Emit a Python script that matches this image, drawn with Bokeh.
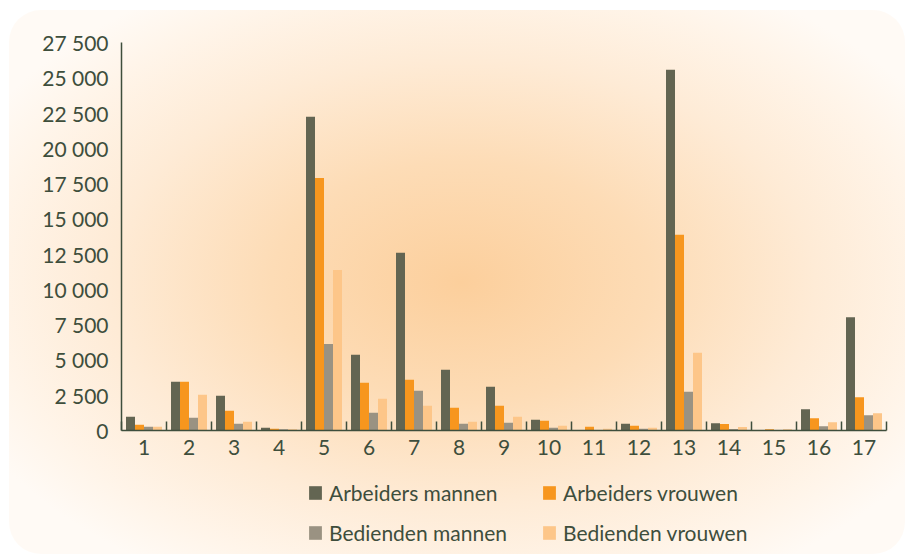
from bokeh.plotting import figure
from bokeh.layouts import column
from bokeh.models import ColumnDataSource, FixedTicker, Legend, LegendItem
from bokeh.transform import dodge
from bokeh.embed import file_html
from bokeh.resources import INLINE

categories = list(range(1, 18))
arbeiders_mannen = [970, 3450, 2460, 190, 22230, 5370, 12600, 4300, 3100, 760, 30, 475, 25570, 520, 30, 1510, 8030]
arbeiders_vrouwen = [400, 3450, 1400, 120, 17900, 3380, 3590, 1610, 1750, 690, 260, 330, 13875, 460, 80, 870, 2360]
bedienden_mannen = [260, 900, 475, 80, 6130, 1255, 2815, 475, 545, 190, 40, 120, 2745, 100, 40, 300, 1085]
bedienden_vrouwen = [260, 2530, 620, 80, 11380, 2250, 1750, 620, 970, 330, 120, 190, 5510, 250, 80, 590, 1225]

series_names = ["Arbeiders mannen", "Arbeiders vrouwen", "Bedienden mannen", "Bedienden vrouwen"]
series_colors = ["#636552", "#f7961e", "#9a9282", "#fdc689"]

y_ticks = [0, 2500, 5000, 7500, 10000, 12500, 15000, 17500, 20000, 22500, 25000, 27500]
y_tick_labels = ["0", "2 500", "5 000", "7 500", "10 000", "12 500", "15 000", "17 500",
                 "20 000", "22 500", "25 000", "27 500"]
x_tick_labels = [str(c) for c in categories]

TEXT = "#3e4e3c"
FONT = "Lato"

src = ColumnDataSource(dict(x=categories, am=arbeiders_mannen, av=arbeiders_vrouwen,
                            bm=bedienden_mannen, bv=bedienden_vrouwen))
cols = ["am", "av", "bm", "bv"]
offsets = [-0.3, -0.1, 0.1, 0.3]

p = figure(width=905, height=474, output_backend="svg", toolbar_location=None,
           x_range=(0.5, 17.5), y_range=(0, 27500),
           min_border_left=121, min_border_right=19, min_border_top=42, min_border_bottom=44)
p.background_fill_color = None
p.border_fill_color = None
p.outline_line_color = None
p.xgrid.visible = False
p.ygrid.visible = False

for c, off, col in zip(cols, offsets, series_colors):
    p.vbar(x=dodge("x", off), top=c, width=0.2, source=src,
           fill_color=col, line_color=None)

# y axis
ya = p.yaxis[0]
ya.ticker = FixedTicker(ticks=y_ticks)
ya.major_label_overrides = {t: l for t, l in zip(y_ticks, y_tick_labels)}
ya.major_tick_in = 0
ya.major_tick_out = 0
ya.minor_tick_in = 0
ya.minor_tick_out = 0
ya.axis_line_color = TEXT
ya.axis_line_width = 1.5
ya.major_label_standoff = 13
ya.major_label_text_font = FONT
ya.major_label_text_font_size = "21px"
ya.major_label_text_color = TEXT

# x axis
xa = p.xaxis[0]
xa.ticker = FixedTicker(ticks=categories, minor_ticks=[c - 0.5 for c in categories] + [categories[-1] + 0.5])
xa.major_label_overrides = {c: l for c, l in zip(categories, x_tick_labels)}
xa.major_tick_in = 0
xa.major_tick_out = 0
xa.minor_tick_in = 9
xa.minor_tick_out = 0
xa.minor_tick_line_color = TEXT
xa.minor_tick_line_width = 1.5
xa.axis_line_color = TEXT
xa.axis_line_width = 1.5
xa.major_label_standoff = 9
xa.major_label_text_font = FONT
xa.major_label_text_font_size = "21px"
xa.major_label_text_color = TEXT

# legend figure below the chart (its bars have zero height, only the legend shows)
pl = figure(width=905, height=80, output_backend="svg", toolbar_location=None,
            x_axis_location=None, y_axis_location=None,
            x_range=(0.5, 17.5), y_range=(0, 27500),
            min_border_left=121, min_border_right=19, min_border_top=0, min_border_bottom=0)
pl.background_fill_color = None
pl.border_fill_color = None
pl.outline_line_color = None
pl.xgrid.visible = False
pl.ygrid.visible = False
leg_r = [pl.vbar(x=dodge("x", off), top=c, bottom=c, width=0.2, source=src,
                 fill_color=col, line_color=None)
         for c, off, col in zip(cols, offsets, series_colors)]

order = [0, 2, 1, 3]
items = [LegendItem(label=series_names[i], renderers=[leg_r[i]]) for i in order]
legend = Legend(items=items, ncols=2, location=(186, 9),
                glyph_width=16, glyph_height=17, label_standoff=6, label_width=197,
                label_height=25, spacing=15, padding=0, margin=0,
                background_fill_alpha=0, border_line_alpha=0,
                label_text_font=FONT, label_text_font_size="21px", label_text_color=TEXT)
pl.add_layout(legend, "center")

layout = column(p, pl, spacing=0, width=905, height=554)
layout.styles = {
    "background": "radial-gradient(ellipse 60% 62% at 51% 51%, #fccf9c 0%, #fddcb6 35%, #feebd6 65%, #fff5ea 88%, #fffaf5 100%)",
    "clip-path": "inset(10px 0px 0px 9px round 32px)",
}

open("out.html", "w").write(file_html(layout, INLINE))
